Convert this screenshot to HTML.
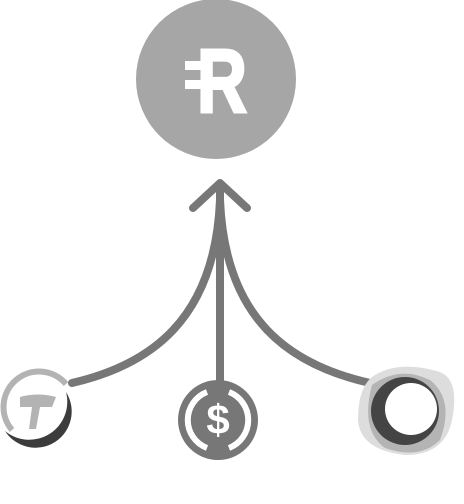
<!DOCTYPE html>
<html><head><style>html,body{margin:0;padding:0;background:#fff;width:464px;height:504px;overflow:hidden}</style></head>
<body>
<svg width="464" height="504" viewBox="0 0 464 504" xmlns="http://www.w3.org/2000/svg">
<circle cx="216" cy="79" r="80" fill="#a6a6a6"/>
<text x="197" y="112" font-family="Liberation Sans, sans-serif" font-weight="bold" font-size="90" fill="#fff" stroke="#fff" stroke-width="3" textLength="50" lengthAdjust="spacingAndGlyphs">R</text>
<rect x="185" y="61" width="17" height="9" fill="#fff"/>
<rect x="185" y="80" width="17" height="9" fill="#fff"/>
<g stroke="#777" stroke-width="8" fill="none" stroke-linecap="round">
<path d="M220 186 L220 382"/>
<path d="M72 383 C150 365 215 320 220 200"/>
<path d="M370 383 C290 365 225 320 220 200"/>
<path d="M193 208 L220 183 L247 208" stroke-linejoin="round"/>
</g>
<circle cx="218" cy="420" r="40" fill="#777"/>
<path d="M207 392 A30 30 0 0 0 207 448" stroke="#fff" stroke-width="6" fill="none"/>
<path d="M229 392 A30 30 0 0 1 229 448" stroke="#fff" stroke-width="6" fill="none"/>
<text x="218" y="434" text-anchor="middle" font-family="Liberation Sans, sans-serif" font-weight="bold" font-size="42" fill="#fff">$</text>
<path d="M66 384 A35 35 0 1 0 12 430" stroke="#b3b3b3" stroke-width="6" fill="none"/>
<path d="M5 431 A38 38 0 0 0 66 392 A33 33 0 0 1 5 431 Z" fill="#3c3c3c"/>
<path d="M20 397 Q38 392 56 397 L52 407 L40 407 L36 429 L29 429 L32 407 L20 407 Z" fill="#b3b3b3"/>
<path d="M375 375 Q400 360 440 372 Q460 380 452 420 Q445 455 405 455 Q360 450 358 420 Q358 385 375 375 Z" fill="#ddd"/>
<path d="M372 385 Q400 365 430 380 Q455 400 440 440 Q420 460 385 448 Q360 430 372 385 Z" fill="#aaa" opacity="0.8"/>
<circle cx="405" cy="411" r="34" fill="#444"/>
<circle cx="411" cy="409" r="26" fill="#fff"/>
</svg>
</body></html>
